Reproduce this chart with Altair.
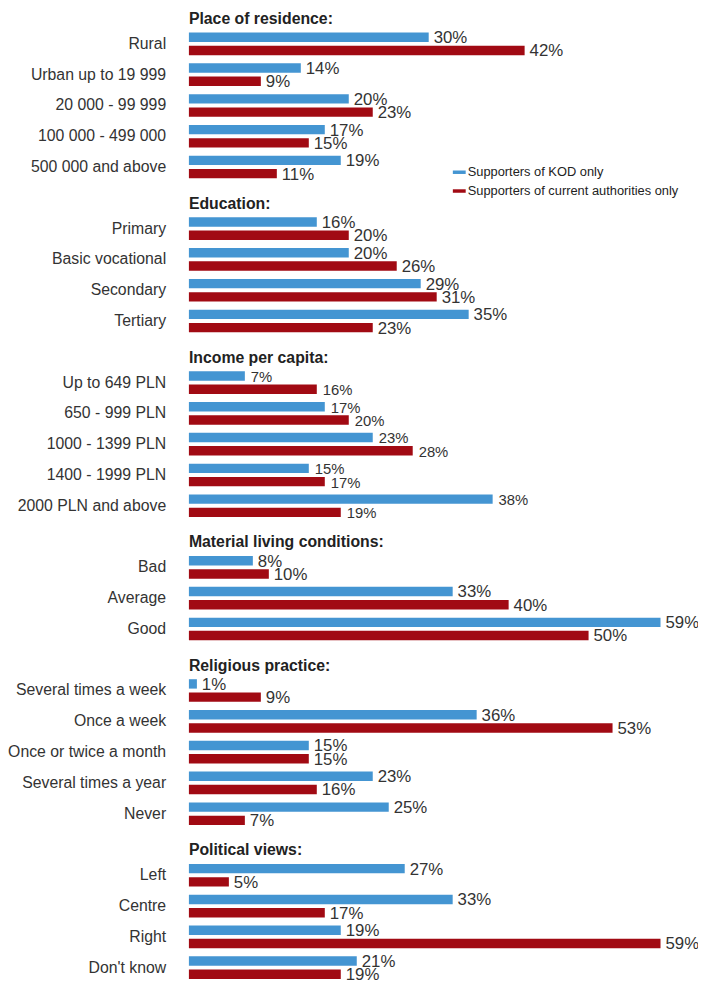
import altair as alt
import pandas as pd

sections = [
    "Place of residence:",
    "Education:",
    "Income per capita:",
    "Material living conditions:",
    "Religious practice:",
    "Political views:",
]
section_categories = [
    ["Rural", "Urban up to 19 999", "20 000 - 99 999", "100 000 - 499 000 ", "500 000 and above"],
    ["Primary", "Basic vocational", "Secondary", "Tertiary"],
    ["Up to 649 PLN", "650 - 999 PLN", "1000 - 1399 PLN", "1400 - 1999 PLN", "2000 PLN and above"],
    ["Bad", "Average", "Good"],
    ["Several times a week", "Once a week", "Once or twice a month", "Several times a year", "Never"],
    ["Left", "Centre", "Right", "Don't know"],
]
kod_values = [
    [30, 14, 20, 17, 19],
    [16, 20, 29, 35],
    [7, 17, 23, 15, 38],
    [8, 33, 59],
    [1, 36, 15, 23, 25],
    [27, 33, 19, 21],
]
auth_values = [
    [42, 9, 23, 15, 11],
    [20, 26, 31, 23],
    [16, 20, 28, 17, 19],
    [10, 40, 50],
    [9, 53, 15, 16, 7],
    [5, 17, 59, 19],
]
series_names = ["Supporters of KOD only", "Supporters of current authorities only"]
series_colors = ["#4495D2", "#A10A13"]

FONT = "Liberation Sans"

rows, cat_rows, head_rows = [], [], []
slot = 1
for si, sec in enumerate(sections):
    head_rows.append({"header": sec, "pos": slot - 0.65})
    for ci, cat in enumerate(section_categories[si]):
        cat_rows.append({"cat": cat, "pos": slot})
        for k, vals in enumerate([kod_values, auth_values]):
            v = vals[si][ci]
            rows.append({
                "section": sec,
                "cat": cat,
                "series": series_names[k],
                "value": v,
                "label": f"{v}%",
                "pos": slot + (-0.215 if k == 0 else 0.215),
            })
        slot += 1
    slot += 1

df = pd.DataFrame(rows)
cats = pd.DataFrame(cat_rows)
heads = pd.DataFrame(head_rows)

W = 505
H = 973
STEP = 31.15
Y0 = 0.016
PX_PER_PCT = 8.086
xscale = alt.Scale(domain=[0, W / PX_PER_PCT], nice=False, zero=True, padding=0)
yscale = alt.Scale(domain=[Y0, Y0 + H / STEP], reverse=True, nice=False, zero=False, padding=0)

x_enc = alt.X("value:Q", scale=xscale, axis=None)
y_enc = alt.Y("pos:Q", scale=yscale, axis=None)

bars = alt.Chart(df).mark_bar(orient="horizontal", height=9.5).encode(
    x=x_enc,
    y=y_enc,
    color=alt.Color(
        "series:N",
        scale=alt.Scale(domain=series_names, range=series_colors),
        legend=alt.Legend(
            orient="none",
            legendX=267,
            legendY=154,
            title=None,
            symbolType="M-1,-0.27H1V0.27H-1Z",
            symbolSize=169,
            symbolStrokeWidth=0,
            symbolOpacity=1,
            labelFontSize=13,
            labelFont=FONT,
            labelColor="#222222",
            labelOffset=2,
            labelLimit=0,
            rowPadding=5,
            padding=0,
        ),
    ),
)

labels_main = alt.Chart(df).transform_filter(
    alt.datum.section != "Income per capita:"
).mark_text(align="left", baseline="middle", dx=5, dy=1, fontSize=17, font=FONT, color="#333333").encode(
    x=x_enc, y=y_enc, text="label:N"
)

labels_income = alt.Chart(df).transform_filter(
    alt.datum.section == "Income per capita:"
).mark_text(align="left", baseline="middle", dx=6, dy=1, fontSize=15, font=FONT, color="#333333").encode(
    x=x_enc, y=y_enc, text="label:N"
)

cat_labels = alt.Chart(cats).mark_text(
    align="right", baseline="middle", dx=-23, fontSize=16, font=FONT, color="#333333"
).encode(x=alt.value(0), y=y_enc, text="cat:N")

head_labels = alt.Chart(heads).mark_text(
    align="left", baseline="alphabetic", fontSize=16, fontWeight="bold", font=FONT, color="#222222"
).encode(x=alt.value(0), y=y_enc, text="header:N")

chart = alt.layer(bars, labels_main, labels_income, cat_labels, head_labels).properties(
    width=W,
    height=H,
    autosize=alt.AutoSizeParams(type="none"),
    padding={"left": 183, "top": 0, "right": 10, "bottom": 0},
).configure_view(stroke=None)

chart.save("out.html", embed_options={"renderer": "svg", "actions": False})
